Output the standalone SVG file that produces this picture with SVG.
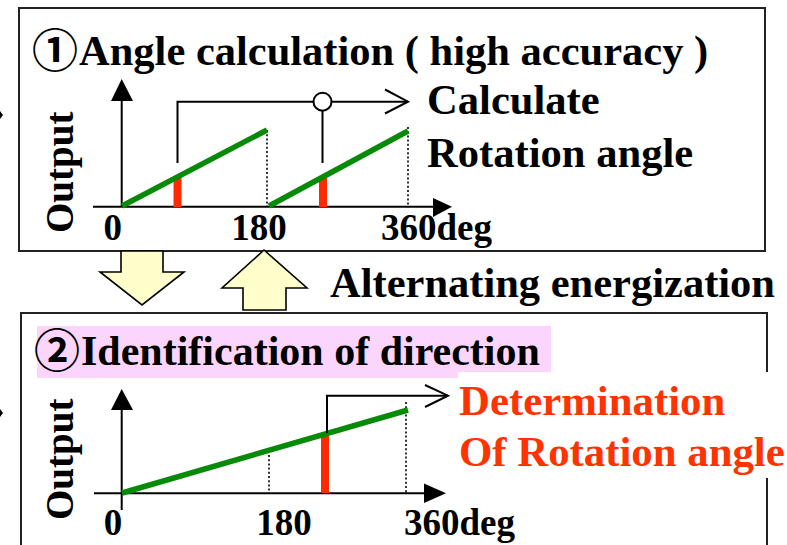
<svg xmlns="http://www.w3.org/2000/svg" width="787" height="545" viewBox="0 0 787 545">
<style>
text{font-family:"Liberation Serif","Times New Roman",serif;font-weight:bold;fill:#000}
.big{font-size:42.6px}
.ax{font-size:37px}
.out{font-size:39px}
.circ{font-family:"Noto Sans CJK JP","DejaVu Sans",sans-serif;font-weight:bold;font-size:46px}
.red{fill:#FF3300;font-size:42.8px}
.box{fill:#fff;stroke:#222;stroke-width:2}
.axis{stroke:#000;stroke-width:2;fill:none}
.head{fill:#000}
.green{stroke:#078A07;stroke-width:5.5;stroke-linecap:butt}
.bar{fill:#FF2A00}
.dot{stroke:#000;stroke-width:1.6;stroke-dasharray:2 2.2}
.brk{stroke:#000;stroke-width:2;fill:none}
.big-arrow{fill:#FFFFCC;stroke:#000;stroke-width:1.6}
</style>
<rect width="787" height="545" fill="#fff"/>
<!-- tiny marks at left edge -->
<polygon points="0,111 3,115 0,119" fill="#000"/>
<polygon points="0,409 3,413 0,417" fill="#000"/>

<g id="box1">
<rect class="box" x="19" y="8" width="746" height="243"/>
<text class="big" y="65"><tspan class="circ" x="32" y="67">①</tspan><tspan x="79" y="65" style="font-size:42.5px">Angle calculation ( high accuracy )</tspan></text>
<text class="big" x="427" y="114">Calculate</text>
<text class="big" x="427" y="167">Rotation angle</text>
<text class="out" transform="translate(73,233) rotate(-90)">Output</text>
<!-- axes -->
<line class="axis" x1="121.7" y1="100" x2="121.7" y2="207"/>
<polygon class="head" points="111,101 121.7,79 133,101"/>
<line class="axis" x1="93" y1="206.7" x2="434" y2="206.7"/>
<polygon class="head" points="433,198 452,206.7 433,217"/>
<!-- dotted -->
<line class="dot" x1="267" y1="130" x2="267" y2="206"/>
<line class="dot" x1="408" y1="127" x2="408" y2="206"/>
<!-- red bars -->
<rect class="bar" x="173.5" y="178" width="8" height="29"/>
<rect class="bar" x="319" y="177" width="8" height="30"/>
<!-- green -->
<line class="green" x1="122" y1="206" x2="267" y2="130"/>
<line class="green" x1="269" y1="206" x2="408" y2="131"/>
<!-- bracket -->
<polyline class="brk" points="177.5,163 177.5,101.7 408,101.7"/>
<polyline class="brk" points="385,89.5 408,101.7 385,113.5"/>
<line class="brk" x1="322.5" y1="110" x2="322.5" y2="163"/>
<circle cx="322.5" cy="101.7" r="9" fill="#fff" stroke="#000" stroke-width="2"/>
<text class="ax" x="112.7" y="240" text-anchor="middle">0</text>
<text class="ax" x="259" y="240" text-anchor="middle">180</text>
<text class="ax" x="381" y="240">360deg</text>
</g>

<g id="connectors">
<polygon class="big-arrow" points="121,251 163,251 163,272 184,272 142,305 100,272 121,272"/>
<polygon class="big-arrow" points="264,250 307,288 286,288 286,310 243,310 243,288 222,288"/>
</g>
<text id="alt" class="big" x="330" y="297" style="font-size:42.5px">Alternating energization</text>

<g id="box2">
<rect class="box" x="21" y="313" width="746" height="260"/>
<rect x="37" y="326" width="514" height="52" fill="#FCD5FC"/>
<text class="big" y="365"><tspan class="circ" x="34" y="367">②</tspan><tspan x="81" y="365" style="font-size:42px">Identification of direction</tspan></text>
<text class="out" transform="translate(73,520) rotate(-90)">Output</text>
<line class="axis" x1="121.7" y1="409" x2="121.7" y2="510"/>
<polygon class="head" points="111,410 121.7,389 133,410"/>
<line class="axis" x1="94" y1="493.3" x2="425" y2="493.3"/>
<polygon class="head" points="424,483.5 446,493.3 424,503"/>
<line class="dot" x1="269" y1="455" x2="269" y2="493"/>
<line class="dot" x1="406" y1="402" x2="406" y2="493"/>
<rect class="bar" x="321" y="436" width="8" height="57"/>
<line class="green" x1="122" y1="493" x2="408" y2="410"/>
<polyline class="brk" points="327,433 327,395.7 448,395.7"/>
<polyline class="brk" points="425,385 448,395.7 425,407"/>
<text class="ax" x="113" y="535" text-anchor="middle">0</text>
<text class="ax" x="284" y="535" text-anchor="middle">180</text>
<text class="ax" x="404" y="535">360deg</text>
</g>

<g id="result">
<rect x="458" y="372" width="329" height="106" fill="#fff"/>
<text class="big red" x="459" y="415">Determination</text>
<text class="big red" x="459" y="466">Of Rotation angle</text>
</g>
</svg>
